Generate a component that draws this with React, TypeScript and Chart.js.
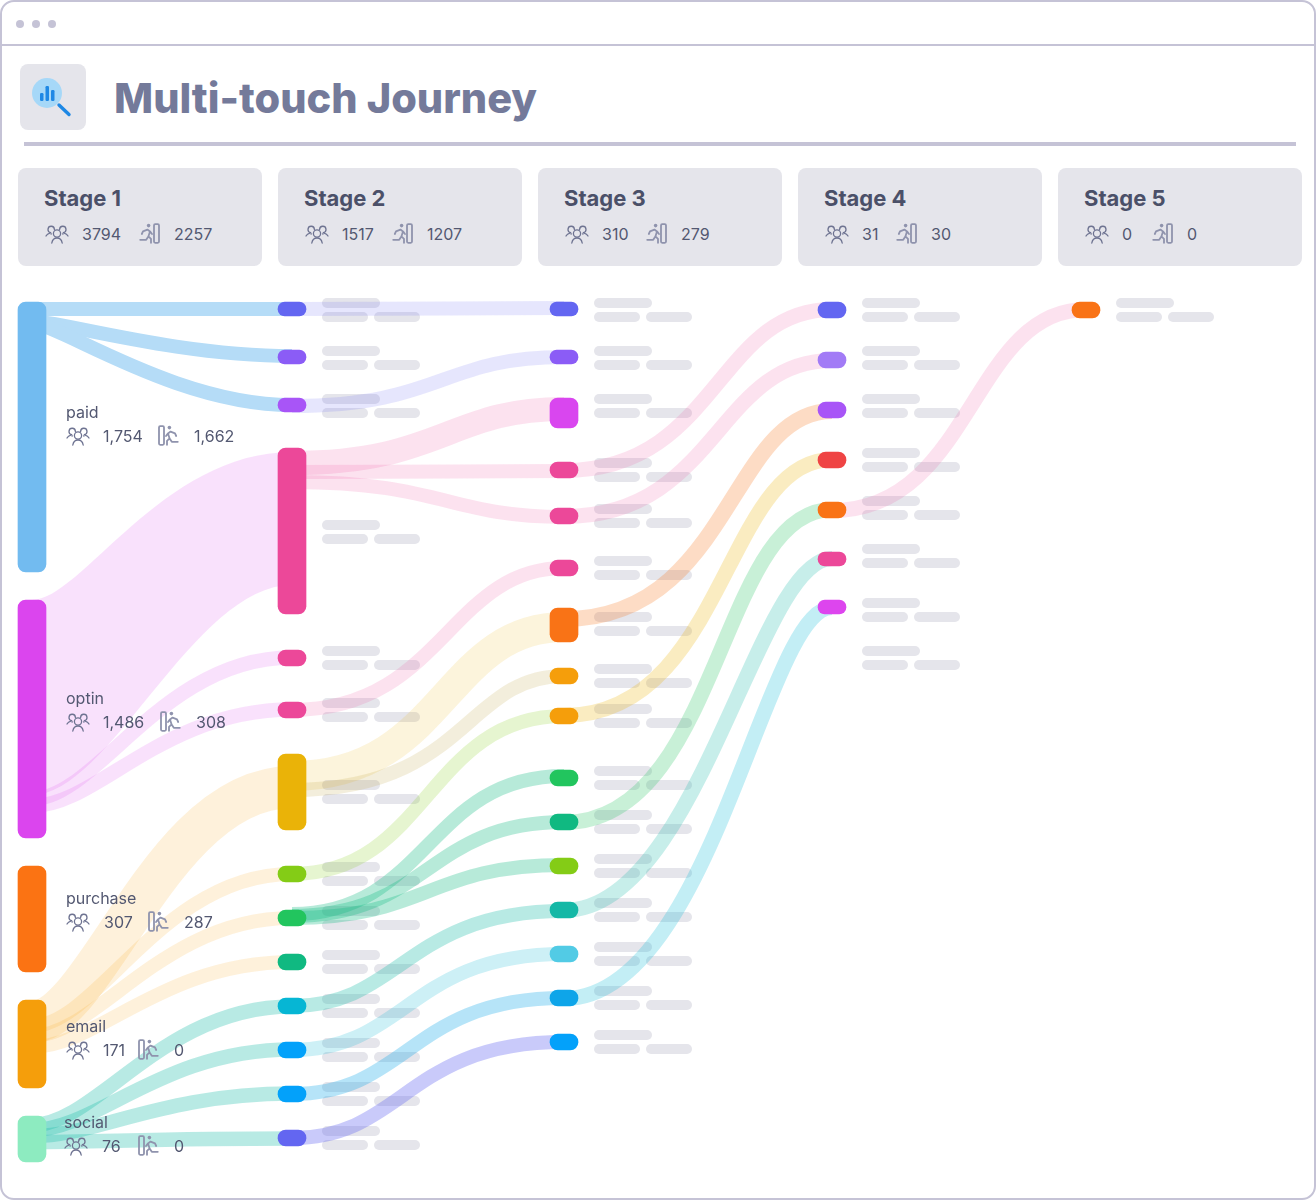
import React, { useEffect, useRef } from "react";
import { Chart, registerables } from "chart.js";

Chart.register(...registerables);

// ---------- data ----------
const chartTitle = "Multi-touch Journey";
const stageNames = ["Stage 1", "Stage 2", "Stage 3", "Stage 4", "Stage 5"];
const stageUsers = ["3794", "1517", "310", "31", "0"];
const stageExits = ["2257", "1207", "279", "30", "0"];
const stageAxis = [32, 292, 564, 832, 1086];

const sourceNames = ["paid", "optin", "purchase", "email", "social"];
const sourceUsers = ["1,754", "1,486", "307", "171", "76"];
const sourceExits = ["1,662", "308", "287", "0", "0"];

// node extents on the flow axis, per stage
const stage1Nodes = [[302, 572], [600, 838], [866, 972], [1000, 1088], [1116, 1162]];
const stage2Nodes = [[302, 316], [350, 364], [398, 412], [448, 614], [650, 666], [702, 718], [754, 830], [866, 882], [910, 926], [954, 970], [998, 1014], [1042, 1058], [1086, 1102], [1130, 1146]];
const stage3Nodes = [[302, 316], [350, 364], [398, 428], [462, 478], [508, 524], [560, 576], [608, 642], [668, 684], [708, 724], [770, 786], [814, 830], [858, 874], [902, 918], [946, 962], [990, 1006], [1034, 1050]];
const stage4Nodes = [[302, 318], [352, 368], [402, 418], [452, 468], [502, 518], [552, 566], [600, 614]];
const stage5Nodes = [[302, 318]];

const stage1Colors = ["#72BBF0", "#DB45EE", "#FB7313", "#F59E0B", "#8DEBC0"];
const stage2Colors = ["#6366F1", "#8B5CF6", "#A855F7", "#EC4899", "#EC4899", "#EC4899", "#EAB308", "#84CC16", "#22C55E", "#10B981", "#06B6D4", "#03A1FA", "#03A1FA", "#6366F1"];
const stage3Colors = ["#6366F1", "#8B5CF6", "#D946EF", "#EC4899", "#EC4899", "#EC4899", "#F97316", "#F59E0B", "#F59E0B", "#22C55E", "#10B981", "#84CC16", "#14B8A6", "#52CBE5", "#0EA5E9", "#03A1FA"];
const stage4Colors = ["#6366F1", "#A27BF6", "#A855F7", "#EF4444", "#F97316", "#EC4899", "#DD45EE"];
const stage5Colors = ["#F97316"];

// links: from stage, source top, source bottom, target top, target bottom
const linksPaid = [[0, 302, 316, 302, 316], [0, 314, 328, 349, 363], [0, 316, 330, 398, 412]];
const linksOptin = [[0, 600, 795, 452, 585], [0, 792, 806, 650, 665], [0, 799, 813, 702, 717]];
const linksEmail = [[0, 1001, 1043, 766, 808], [0, 1019, 1033, 867, 881], [0, 1029, 1043, 911, 925], [0, 1040, 1054, 955, 969]];
const linksSocial = [[0, 1118, 1132, 999, 1014], [0, 1123, 1137, 1042, 1057], [0, 1129, 1143, 1086, 1101], [0, 1135, 1149, 1131, 1146]];
const linksIndigo2 = [[1, 302, 316, 301, 315], [1, 399, 413, 350, 364]];
const linksPink2 = [[1, 451, 475, 397, 421], [1, 465, 479, 464, 478], [1, 475, 489, 510, 524], [1, 703, 717, 561, 575]];
const linksAmber2 = [[1, 761, 791, 612, 642]];
const linksTan2 = [[1, 783, 797, 669, 683]];
const linksLime2 = [[1, 867, 881, 709, 723]];
const linksGreen2 = [[1, 907, 921, 769, 783], [1, 909, 923, 815, 829], [1, 911, 925, 858, 872]];
const linksTeal2 = [[1, 999, 1013, 904, 918]];
const linksCyan2 = [[1, 1043, 1057, 947, 961]];
const linksSky2 = [[1, 1087, 1101, 991, 1005]];
const linksViolet2 = [[1, 1131, 1145, 1035, 1049]];
const linksPink3 = [[2, 463, 478, 302, 317], [2, 509, 524, 353, 368]];
const linksOrange3 = [[2, 611, 627, 403, 419]];
const linksYellow3 = [[2, 708, 723, 452, 467]];
const linksGreen3 = [[2, 815, 830, 502, 517]];
const linksTeal3 = [[2, 903, 918, 551, 566]];
const linksCyan3 = [[2, 991, 1006, 600, 615]];
const linksPink4 = [[3, 503, 518, 302, 317]];

// skeleton label rows on the flow axis
const stage2Rows = [298, 346, 394, 520, 646, 698, 780, 862, 906, 950, 994, 1038, 1082, 1126];
const stage3Rows = [298, 346, 394, 458, 504, 556, 612, 664, 704, 766, 810, 854, 898, 942, 986, 1030];
const stage4Rows = [298, 346, 394, 448, 496, 544, 598, 646];
const stage5Rows = [298];

// ---------- styles ----------
const linkGroups: [number[][], string, number[]][] = [
  [linksPaid, "#B5DCF7", [0.1, 0.55]],
  [linksOptin, "rgba(217,70,239,0.16)", [0.25, 0.5]],
  [linksEmail, "rgba(245,158,11,0.15)", [0.25, 0.5]],
  [linksSocial, "rgba(20,184,166,0.3)", [0.25, 0.5]],
  [linksIndigo2, "rgba(99,102,241,0.16)", [0.55, 0.55]],
  [linksPink2, "rgba(236,72,153,0.155)", [0.55, 0.58]],
  [linksAmber2, "rgba(234,179,8,0.14)", [0.56, 0.56]],
  [linksTan2, "rgba(180,150,40,0.16)", [0.64, 0.64]],
  [linksLime2, "rgba(132,204,22,0.2)", [0.5, 0.5]],
  [linksGreen2, "rgba(16,185,129,0.3)", [0.5, 0.5]],
  [linksTeal2, "rgba(20,184,166,0.3)", [0.4, 0.42]],
  [linksCyan2, "rgba(6,182,212,0.2)", [0.42, 0.43]],
  [linksSky2, "rgba(14,165,233,0.3)", [0.43, 0.43]],
  [linksViolet2, "rgba(99,102,241,0.35)", [0.41, 0.42]],
  [linksPink3, "rgba(236,72,153,0.155)", [0.57, 0.57]],
  [linksOrange3, "rgba(249,115,22,0.25)", [0.62, 0.62]],
  [linksYellow3, "rgba(234,179,8,0.25)", [0.6, 0.6]],
  [linksGreen3, "rgba(34,197,94,0.25)", [0.58, 0.58]],
  [linksTeal3, "rgba(20,184,166,0.24)", [0.5, 0.72]],
  [linksCyan3, "rgba(6,182,212,0.24)", [0.55, 0.75]],
  [linksPink4, "rgba(236,72,153,0.155)", [0.55, 0.55]],
];
const FONT = "Inter, 'Open Sans', sans-serif";
const INK = "#535871";
const PANEL = "#E5E5EB";
const FRAME = "#C5C3D6";
const ICON = "#8F93AD";

const skeletonPlugin = {
  id: "skeleton",
  beforeDatasetsDraw(chart: any) {
    const { ctx, scales } = chart;
    const sx = scales.x, sy = scales.y;
    const rowsByStage: [number, number[]][] = [[1, stage2Rows], [2, stage3Rows], [3, stage4Rows], [4, stage5Rows]];
    ctx.save();
    ctx.fillStyle = PANEL;
    rowsByStage.forEach(([st, rows]) => {
      const base = stageAxis[st] + 30;
      rows.forEach((r) => {
        const pills = [[base, r, 58], [base, r + 14, 46], [base + 52, r + 14, 46]];
        pills.forEach(([x, y, w]) => {
          const px = sx.getPixelForValue(x), py = sy.getPixelForValue(y);
          ctx.beginPath();
          ctx.roundRect(px, py, sx.getPixelForValue(x + w) - px, sy.getPixelForValue(y + 10) - py, 5);
          ctx.fill();
        });
      });
    });
    ctx.restore();
  },
};

const linkPlugin = {
  id: "flowLinks",
  beforeDatasetsDraw(chart: any) {
    const { ctx, scales } = chart;
    const X = (v: number) => scales.x.getPixelForValue(v);
    const Y = (v: number) => scales.y.getPixelForValue(v);
    ctx.save();
    linkGroups.forEach(([links, color, curve]) => {
      links.forEach(([gap, s0, s1, t0, t1]) => {
        const x0 = stageAxis[gap], x1 = stageAxis[gap + 1], dx = x1 - x0;
        const sw = s1 - s0, tw = t1 - t0;
        if (Math.abs(sw - tw) > 2) {
          ctx.fillStyle = color;
          ctx.beginPath();
          ctx.moveTo(X(x0), Y(s0));
          ctx.bezierCurveTo(X(x0 + 0.19 * dx), Y(s0), X(x0 + 0.5 * dx), Y(t0), X(x1), Y(t0));
          ctx.lineTo(X(x1), Y(t1));
          ctx.bezierCurveTo(X(x0 + 0.62 * dx), Y(t1), X(x0 + 0.3 * dx), Y(s1), X(x0), Y(s1));
          ctx.closePath();
          ctx.fill();
        } else {
          const [a, b] = curve;
          const sc = (s0 + s1) / 2, tc = (t0 + t1) / 2;
          ctx.strokeStyle = color;
          ctx.lineWidth = (sw + tw) / 2;
          ctx.lineCap = "butt";
          ctx.beginPath();
          ctx.moveTo(X(x0), Y(sc));
          ctx.bezierCurveTo(X(x0 + a * dx), Y(sc), X(x0 + b * dx), Y(tc), X(x1), Y(tc));
          ctx.stroke();
        }
      });
    });
    ctx.restore();
  },
};

// ---------- small parts ----------
function PeopleIcon() {
  return (
    <svg width="24" height="20" viewBox="0 0 24 20" fill="none" stroke="#6E7391" strokeWidth="1.3" strokeLinecap="round">
      <circle cx="12" cy="9.5" r="3.6" />
      <path d="M6.8 19c.6-3.2 2.6-5 5.2-5s4.6 1.8 5.2 5" />
      <path d="M9.4 5.4A3.2 3.2 0 1 0 5.6 8.6c.4.5.7 1 .5 1.6" />
      <path d="M14.6 5.4a3.2 3.2 0 1 1 3.8 3.2c-.4.5-.7 1-.5 1.6" />
      <path d="M1 12c.8-1.4 2-2.4 3.4-2.6M23 12c-.8-1.4-2-2.4-3.4-2.6" />
    </svg>
  );
}

function ExitIcon({ flip }: { flip?: boolean }) {
  return (
    <svg width="21" height="21" viewBox="0 0 21 21" fill="none" stroke={ICON} strokeWidth="1.8" strokeLinecap="round" strokeLinejoin="round" style={{ display: "block", transform: flip ? "scaleX(-1)" : undefined }}>
      <rect x="15" y="1.2" width="5" height="18.6" rx="1.2" />
      <circle cx="9.6" cy="2.6" r="1.8" fill={ICON} stroke="none" />
      <path d="M4 8.4l4.4-1.8 2.6 1.8-1.6 5 2.6 2.4v4M11 8.4l2 2.6M4 8.4L2.8 11M9.4 13.4l-2.2 3.4H1.2" />
    </svg>
  );
}

function Abs({ left, top, children }: any) {
  return <div style={{ position: "absolute", left, top, lineHeight: "24px", whiteSpace: "nowrap" }}>{children}</div>;
}

const cardLeft = [18, 278, 538, 798, 1058];
const cardExitLeft = [121, 114, 108, 98, 94];
const labelTop = [412, 698, 898, 1026, 1122];
const labelLeft = [66, 66, 66, 66, 64];
const labelPeopleLeft = [66, 66, 66, 66, 64];
const labelUsersLeft = [103, 103, 104, 103, 102];
const labelExitLeft = [158, 160, 148, 138, 138];
const labelExitsLeft = [194, 196, 184, 174, 174];

export default function App() {
  const ref = useRef<HTMLCanvasElement | null>(null);
  useEffect(() => {
    document.body.style.margin = "0";
    const allNodes = [stage1Nodes, stage2Nodes, stage3Nodes, stage4Nodes, stage5Nodes];
    const allColors = [stage1Colors, stage2Colors, stage3Colors, stage4Colors, stage5Colors];
    const data: any[] = [];
    const colors: string[] = [];
    allNodes.forEach((nodes, s) =>
      nodes.forEach((n, i) => {
        data.push({ x: stageAxis[s], y: n });
        colors.push(allColors[s][i]);
      })
    );
    const chart = new Chart(ref.current as HTMLCanvasElement, {
      type: "bar",
      data: {
        datasets: [
          {
            label: "Journey nodes",
            data,
            backgroundColor: colors,
            barThickness: 28,
            borderRadius: 8,
            borderSkipped: false,
          } as any,
        ],
      },
      options: {
        animation: false,
        responsive: false,
        devicePixelRatio: 1,
        events: [],
        layout: { padding: 0 },
        scales: {
          x: { type: "linear", display: false, min: 0, max: 1316, offset: false },
          y: { type: "linear", display: false, min: 0, max: 1200, reverse: true },
        },
        plugins: { legend: { display: false }, tooltip: { enabled: false } },
      } as any,
      plugins: [skeletonPlugin, linkPlugin] as any,
    });
    return () => chart.destroy();
  }, []);

  return (
    <div style={{ position: "relative", width: 1316, height: 1200, overflow: "hidden", background: "#fff", fontFamily: FONT }}>
      <div style={{ position: "absolute", inset: 0, border: `2px solid ${FRAME}`, borderRadius: 14, boxSizing: "border-box" }} />
      <div style={{ position: "absolute", left: 2, right: 2, top: 44, height: 2, background: FRAME }} />
      {[16, 32, 48].map((x) => (
        <div key={x} style={{ position: "absolute", left: x, top: 20, width: 8, height: 8, borderRadius: 4, background: FRAME }} />
      ))}
      <div style={{ position: "absolute", left: 20, top: 64, width: 66, height: 66, borderRadius: 8, background: PANEL }}>
        <svg width="66" height="66" viewBox="0 0 66 66">
          <circle cx="27" cy="29" r="15" fill="#A6D8F8" />
          <rect x="20" y="29" width="3.5" height="8" rx="1.2" fill="#1E88E5" />
          <rect x="25.5" y="22" width="3.5" height="15" rx="1.2" fill="#1E88E5" />
          <rect x="31" y="26" width="3.5" height="11" rx="1.2" fill="#1E88E5" />
          <path d="M39 41l10 9.5" stroke="#1E88E5" strokeWidth="3.4" strokeLinecap="round" />
        </svg>
      </div>
      <div style={{ position: "absolute", left: 114, top: 70, fontSize: 41.5, lineHeight: "56px", fontWeight: 800, color: "#747A9A", whiteSpace: "nowrap" }}>{chartTitle}</div>
      <div style={{ position: "absolute", left: 24, top: 142, width: 1272, height: 4, background: FRAME }} />
      {stageNames.map((name, i) => (
        <div key={name} style={{ position: "absolute", left: cardLeft[i], top: 168, width: 244, height: 98, borderRadius: 8, background: PANEL, fontSize: 16, color: INK }}>
          <div style={{ position: "absolute", left: 26, top: 16, fontSize: 22, lineHeight: "28px", fontWeight: 700, color: "#4B5068" }}>{name}</div>
          <Abs left={27} top={56}><PeopleIcon /></Abs>
          <Abs left={64} top={54}>{stageUsers[i]}</Abs>
          <Abs left={cardExitLeft[i]} top={55}><ExitIcon /></Abs>
          <Abs left={cardExitLeft[i] + 35} top={54}>{stageExits[i]}</Abs>
        </div>
      ))}
      <canvas ref={ref} width={1316} height={1200} style={{ position: "absolute", left: 0, top: 0, display: "block", width: 1316, height: 1200 }} />
      {sourceNames.map((name, i) => (
        <div key={name} style={{ position: "absolute", left: 0, top: labelTop[i] - 12, width: 300, height: 60, fontSize: 16, color: INK }}>
          <Abs left={labelLeft[i]} top={0}>{name}</Abs>
          <Abs left={labelPeopleLeft[i]} top={26}><PeopleIcon /></Abs>
          <Abs left={labelUsersLeft[i]} top={24}>{sourceUsers[i]}</Abs>
          <Abs left={labelExitLeft[i]} top={25}><ExitIcon flip /></Abs>
          <Abs left={labelExitsLeft[i]} top={24}>{sourceExits[i]}</Abs>
        </div>
      ))}
    </div>
  );
}
